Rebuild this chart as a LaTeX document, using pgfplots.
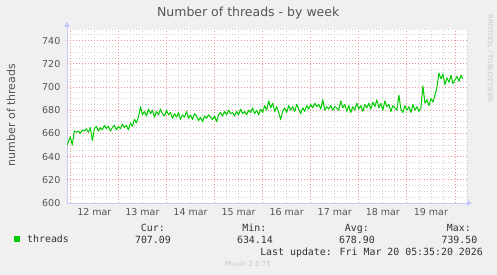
\documentclass[border=0pt]{standalone}
\usepackage{pgfplots}
\pgfplotsset{compat=1.18}
\usepackage{fontspec}
\setmainfont{DejaVu Sans}
\newfontfamily\monofont{DejaVu Sans Mono}
\usetikzlibrary{arrows.meta}
\definecolor{bgc}{HTML}{F0F0F0}
\definecolor{axc}{HTML}{C8C8FF}
\definecolor{mgrid}{HTML}{F09090}
\definecolor{ngrid}{HTML}{D0D0D0}
\definecolor{linec}{HTML}{00CC00}
\definecolor{txt}{HTML}{555555}
\definecolor{ltxt}{HTML}{333333}
\definecolor{faint}{HTML}{C8C8C8}
\pgfplotstableread{
h v
-1.6 650
0 657
1 650
2 662
3 661
4 662
5 660
6 663
7 662
8 664
9 661
10 665
11 654
12 664
13 666
14 662
15 665
16 663
17 667
18 664
19 666
20 662
21 665
22 667
23 663
24 666
25 664
26 668
27 665
28 667
29 663
30 669
31 666
32 672
33 669
34 674
35 683
36 676
37 679
38 675
39 681
40 677
41 680
42 674
43 679
44 676
45 681
46 677
47 675
48 680
49 676
50 678
51 673
52 677
53 674
54 678
55 672
56 676
57 674
58 679
59 673
60 676
61 672
62 677
63 675
64 671
65 674
66 670
67 675
68 673
69 676
70 674
71 672
72 675
73 670
74 676
75 678
76 675
77 679
78 676
79 680
80 677
81 678
82 675
83 679
84 676
85 681
86 677
87 679
88 676
89 680
90 678
91 682
92 677
93 680
94 676
95 681
96 678
97 684
98 680
99 688
100 682
101 686
102 679
103 683
104 678
105 672
106 679
107 682
108 678
109 684
110 680
111 683
112 679
113 685
114 681
115 677
116 682
117 679
118 684
119 681
120 685
121 682
122 686
123 683
124 685
125 681
126 689
127 680
128 683
129 681
130 684
131 680
132 683
133 682
134 680
135 688
136 682
137 685
138 679
139 684
140 678
141 683
142 680
143 686
144 681
145 684
146 679
147 685
148 682
149 686
150 681
151 687
152 683
153 689
154 682
155 686
156 680
157 688
158 683
159 685
160 679
161 684
162 682
163 680
164 693
165 681
166 678
167 684
168 680
169 683
170 678
171 685
172 680
173 683
174 679
175 682
176 701
177 686
178 689
179 684
180 690
181 687
182 693
183 700
184 712
185 707
186 711
187 702
188 708
189 704
190 710
191 703
192 706
193 709
194 705
195 710
196 707
}\threads
\begin{document}
\begin{tikzpicture}
\useasboundingbox (0,0) rectangle (497bp,275bp);
\fill[bgc] (0,0) rectangle (497bp,275bp);
\begin{axis}[
  at={(67bp,72bp)}, anchor=south west,
  scale only axis, width=400bp, height=174bp,
  xmin=-1.65, xmax=198, ymin=600, ymax=750,
  axis background/.style={fill=white},
  axis lines=left,
  axis line style={draw=axc, line width=0.8bp},
  x axis line style={-{Triangle[width=6bp,length=5bp]}, shorten >=-5bp},
  y axis line style={-{Triangle[width=6bp,length=5bp]}, shorten >=-7bp},
  xtick={12,36,...,180},
  xticklabels={12 mar,13 mar,14 mar,15 mar,16 mar,17 mar,18 mar,19 mar},
  minor xtick={0,6,...,198},
  extra x ticks={0,24,...,192},
  extra x tick labels={},
  extra x tick style={grid=major, major grid style={draw=mgrid, dash pattern=on 1bp off 2bp, line width=0.8bp}},
  ytick={600,620,...,740},
  minor ytick={605,610,615,625,630,635,645,650,655,665,670,675,685,690,695,705,710,715,725,730,735,745,750},
  extra y ticks={620,640,...,740},
  extra y tick labels={},
  extra y tick style={grid=major, major grid style={draw=mgrid, dash pattern=on 1bp off 2bp, line width=0.8bp}},
  xmajorgrids, xminorgrids, yminorgrids,
  major grid style={draw=ngrid, dash pattern=on 1bp off 2bp, line width=0.8bp},
  minor grid style={draw=ngrid, dash pattern=on 1bp off 2bp, line width=0.8bp},
  major tick length=0pt, minor tick length=0pt,
  tick style={draw=none},
  /pgf/number format/assume math mode=true,
  /pgf/number format/1000 sep={},
  ticklabel style={font=\fontsize{9.5bp}{11bp}\selectfont, text=txt, inner sep=0pt},
  xticklabel shift=5.5bp,
  yticklabel shift=6.5bp,
  title={Number of threads - by week},
  title style={font=\fontsize{12.5bp}{14bp}\selectfont, text=txt, at={(axis description cs:0.453,1.057)}, anchor=center, inner sep=0pt},
  ylabel={number of threads},
  ylabel style={font=\fontsize{11bp}{13bp}\selectfont, text=txt, at={(axis description cs:-0.14,0.506)}, anchor=center, inner sep=0pt},
  legend style={at={(axis description cs:-0.1325,-0.2086)}, anchor=west, draw=none, fill=none, inner sep=0pt, column sep=5bp, font=\monofont\fontsize{9.9bp}{12bp}\selectfont, text=ltxt},
  legend image code/.code={\fill[linec] (0bp,-2.5bp) rectangle (5bp,2.5bp);},
  clip=true,
]
\addplot[draw=linec, line width=1bp, line join=round] table[x=h,y=v]{\threads};
\addlegendentry{threads}
\end{axis}
\begin{scope}[font=\monofont\fontsize{9.9bp}{12bp}\selectfont, text=ltxt]
\node[anchor=base east, inner sep=0pt] at (165bp,43.4bp) {Cur:};
\node[anchor=base east, inner sep=0pt] at (266.5bp,43.4bp) {Min:};
\node[anchor=base east, inner sep=0pt] at (369bp,43.4bp) {Avg:};
\node[anchor=base east, inner sep=0pt] at (471bp,43.4bp) {Max:};
\node[anchor=base east, inner sep=0pt] at (171bp,32bp) {707.09};
\node[anchor=base east, inner sep=0pt] at (273bp,32bp) {634.14};
\node[anchor=base east, inner sep=0pt] at (375bp,32bp) {678.90};
\node[anchor=base east, inner sep=0pt] at (477.5bp,32bp) {739.50};
\node[anchor=base east, inner sep=0pt] at (483bp,19.7bp) {Last update: Fri Mar 20 05:35:20 2026};
\end{scope}
\node[anchor=center, inner sep=0pt, font=\fontsize{7bp}{8bp}\selectfont, text=faint] at (248bp,11bp) {Munin 2.0.75};
\node[anchor=center, inner sep=0pt, rotate=-90, font=\fontsize{6.8bp}{8bp}\selectfont, text=faint] at (490bp,216.5bp) {RRDTOOL / TOBI OETIKER};
\end{tikzpicture}
\end{document}
